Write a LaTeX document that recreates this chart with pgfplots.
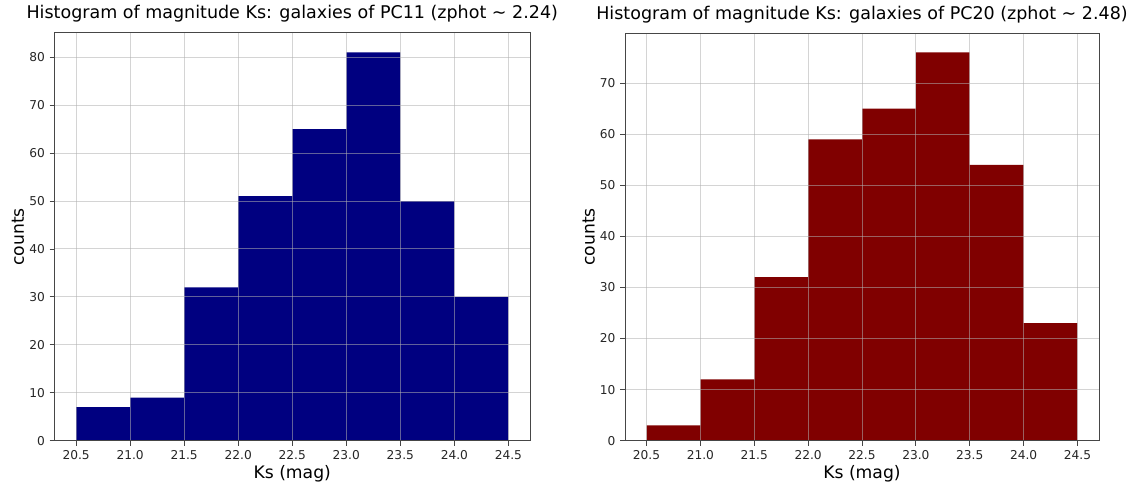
\documentclass[border=0pt]{standalone}
\usepackage{fontspec}
\setmainfont{DejaVu Sans}
\usepackage{pgfplots}
\pgfplotsset{compat=1.18}
\definecolor{navyc}{RGB}{0,0,128}
\definecolor{maroonc}{RGB}{128,0,0}
\definecolor{gridc}{RGB}{176,176,176}
\definecolor{spinec}{RGB}{70,70,70}
\pgfplotsset{
  histstyle/.style={
    scale only axis,
    width=475.5pt, height=407.7pt,
    anchor=south west,
    xmin=20.3, xmax=24.7,
    ymin=0,
    xtick={20.5,21.0,21.5,22.0,22.5,23.0,23.5,24.0,24.5},
    xticklabels={20.5,21.0,21.5,22.0,22.5,23.0,23.5,24.0,24.5},
    xtick pos=bottom, ytick pos=left,
    tick align=outside,
    major tick length=4.9pt,
    tick style={spinec, line width=0.9pt},
    axis line style={spinec, line width=1pt},
    grid=major,
    major grid style={gridc, line width=1pt, opacity=0.55},
    axis on top,
    tick label style={font=\fontsize{12.2}{14}\selectfont, inner sep=0pt, text=black!85},
    xticklabel shift=5pt,
    yticklabel shift=4.6pt,
    title style={at={(0.5,1)}, anchor=base, yshift=8pt, inner sep=0pt,
                 font=\fontsize{17.5}{20}\selectfont},
    label style={font=\fontsize{17.2}{20}\selectfont, inner sep=0pt},
    xlabel={Ks (mag)},
    ylabel={counts},
    xlabel style={at={(axis description cs:0.5,-0.082)}, anchor=center},
    ylabel style={at={(axis description cs:-0.0768,0.5)}, anchor=center},
  }
}
\begin{document}
\begin{tikzpicture}
\path[use as bounding box] (0,0) rectangle (1134pt,488pt);
\begin{axis}[histstyle,
  at={(54.5pt,47.3pt)},
  ymax=85.05,
  ytick={0,10,20,30,40,50,60,70,80},
  yticklabels={0,10,20,30,40,50,60,70,80},
  title={Histogram of magnitude Ks: galaxies of PC11 (zphot \char"007E\ 2.24)},
]
\addplot[ybar interval, fill=navyc, draw=none] coordinates {
  (20.5,7) (21.0,9) (21.5,32) (22.0,51) (22.5,65) (23.0,81) (23.5,50) (24.0,30) (24.5,30)
};
\end{axis}
\begin{axis}[histstyle,
  at={(625pt,47.3pt)},
  width=474pt,
  ymax=79.8,
  ytick={0,10,20,30,40,50,60,70},
  yticklabels={0,10,20,30,40,50,60,70},
  title={Histogram of magnitude Ks: galaxies of PC20 (zphot \char"007E\ 2.48)},
]
\addplot[ybar interval, fill=maroonc, draw=none] coordinates {
  (20.5,3) (21.0,12) (21.5,32) (22.0,59) (22.5,65) (23.0,76) (23.5,54) (24.0,23) (24.5,23)
};
\end{axis}
\end{tikzpicture}
\end{document}
